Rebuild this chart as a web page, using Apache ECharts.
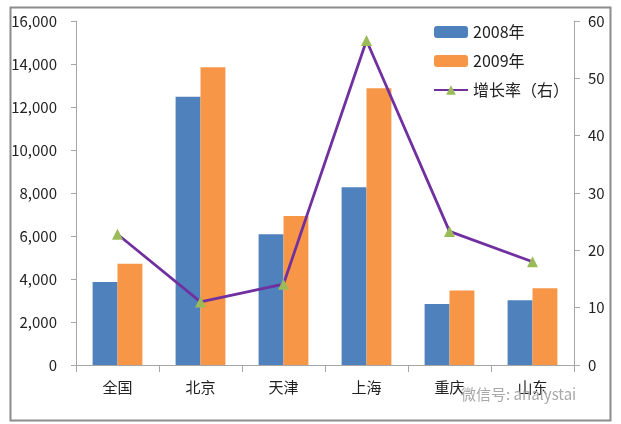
<!DOCTYPE html>
<html>
<head>
<meta charset="utf-8">
<script src="https://cdn.jsdelivr.net/npm/echarts@6/dist/echarts.min.js"></script>
<style>html,body{margin:0;padding:0;background:#fff;}#c{width:621px;height:424px;}</style>
</head>
<body>
<div id="c"></div>
<script>
const categories = ['全国', '北京', '天津', '上海', '重庆', '山东'];
const values2008 = [3860, 12480, 6080, 8265, 2840, 3010];
const values2009 = [4710, 13850, 6930, 12870, 3470, 3565];
const growthRate = [22.8, 11.0, 14.1, 56.6, 23.3, 18.0];
const leftTicks = { min: 0, max: 16000, interval: 2000 };
const rightTicks = { min: 0, max: 60, interval: 10 };

const font = '"Noto Sans CJK SC", "Noto Sans", sans-serif';
const axisColor = '#A6A6A6';
const chart = echarts.init(document.getElementById('c'), null, { renderer: 'canvas' });
chart.setOption({
  animation: false,
  backgroundColor: '#fff',
  textStyle: { fontFamily: font },
  grid: { left: 76, right: 47, top: 21, bottom: 59 },
  legend: {
    orient: 'vertical',
    left: 428, top: 19,
    itemWidth: 34, itemHeight: 12, itemGap: 13,
    textStyle: { fontSize: 16, color: '#222', fontFamily: font },
    data: ['2008年', '2009年', '增长率（右）']
  },
  xAxis: {
    type: 'category',
    data: categories,
    axisLine: { lineStyle: { color: axisColor, width: 1 } },
    axisTick: { show: true, length: 7, lineStyle: { color: axisColor } },
    axisLabel: { fontSize: 15, color: '#222', margin: 15, fontFamily: font }
  },
  yAxis: [
    {
      type: 'value', min: leftTicks.min, max: leftTicks.max, interval: leftTicks.interval,
      axisLine: { show: true, lineStyle: { color: axisColor } },
      axisTick: { show: true, length: 5, lineStyle: { color: axisColor } },
      splitLine: { show: false },
      axisLabel: { fontSize: 15, color: '#222', margin: 19, fontFamily: font,
        formatter: v => v.toLocaleString('en-US') }
    },
    {
      type: 'value', min: rightTicks.min, max: rightTicks.max, interval: rightTicks.interval,
      position: 'right',
      axisLine: { show: true, lineStyle: { color: axisColor } },
      axisTick: { show: true, length: 6, lineStyle: { color: axisColor } },
      splitLine: { show: false },
      axisLabel: { fontSize: 15, color: '#222', margin: 14, fontFamily: font }
    }
  ],
  series: [
    {
      name: '2008年', type: 'bar', data: values2008, yAxisIndex: 0,
      barGap: '0%', barCategoryGap: '40%',
      itemStyle: { color: '#4F81BD' }
    },
    {
      name: '2009年', type: 'bar', data: values2009, yAxisIndex: 0,
      barGap: '0%', barCategoryGap: '40%',
      itemStyle: { color: '#F79646' }
    },
    {
      name: '增长率（右）', type: 'line', data: growthRate, yAxisIndex: 1,
      symbol: 'triangle', symbolSize: 11,
      lineStyle: { color: '#7030A0', width: 2.8 },
      itemStyle: { color: '#9BBB59', borderWidth: 0 },
      z: 5
    }
  ],
  graphic: [
    {
      type: 'rect', left: 8, top: 5,
      shape: { width: 600, height: 413 },
      style: { fill: 'none', stroke: '#8C8C8C', lineWidth: 2 },
      silent: true
    },
    {
      type: 'text', left: 461, top: 387,
      style: { text: '微信号: analystai', fill: '#A8A8A8', font: '15px ' + font },
      z: 10
    }
  ]
});
</script>
</body>
</html>
